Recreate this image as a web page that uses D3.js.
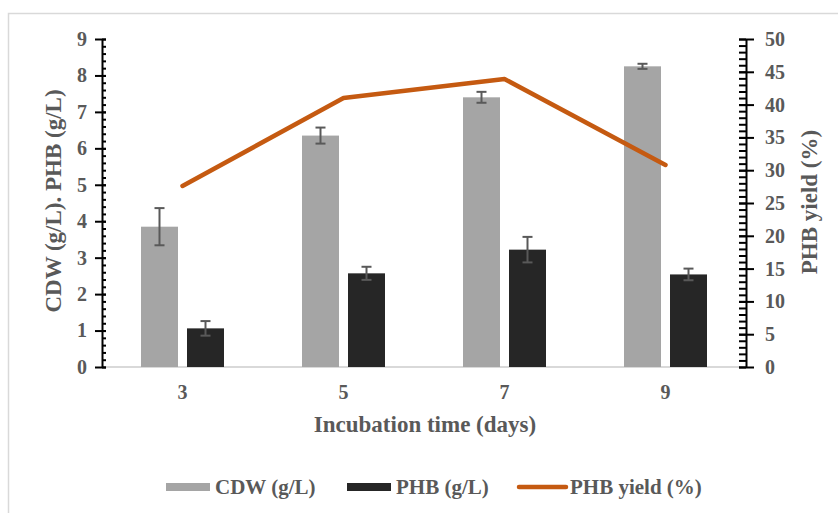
<!DOCTYPE html>
<html>
<head>
<meta charset="utf-8">
<script src="https://cdn.jsdelivr.net/npm/d3@7"></script>
<style>
  body { margin: 0; background: #fff; }
  svg text { font-family: "Liberation Serif", "Times New Roman", serif; font-weight: bold; fill: #595959; }
</style>
</head>
<body>
<svg id="chart" width="838" height="513"></svg>
<script>
// data
var days = ["3", "5", "7", "9"];
var cdw = [3.85, 6.35, 7.40, 8.25];
var cdwErr = [0.51, 0.22, 0.15, 0.07];
var phb = [1.06, 2.57, 3.22, 2.54];
var phbErr = [0.20, 0.18, 0.35, 0.16];
var phbYield = [27.6, 41.0, 43.9, 30.8];
var leftTicks = [0, 1, 2, 3, 4, 5, 6, 7, 8, 9];
var rightTicks = [0, 5, 10, 15, 20, 25, 30, 35, 40, 45, 50];
var series = ["CDW (g/L)", "PHB (g/L)"];

var svg = d3.select("#chart");
var pLeft = 102, pRight = 746, pTop = 39, pBottom = 367;

// outer frame
svg.append("rect")
    .attr("x", 8.5).attr("y", 13.5)
    .attr("width", 900).attr("height", 600)
    .attr("fill", "none").attr("stroke", "#d9d9d9").attr("stroke-width", 1.5);

var x0 = d3.scaleBand().domain(days).range([pLeft, pRight]).padding(0);
var x1 = d3.scaleBand().domain(series)
    .range([x0.bandwidth() / 2 - 41.5, x0.bandwidth() / 2 + 41.5])
    .paddingInner(0.1957).paddingOuter(0);
var y = d3.scaleLinear().domain([0, 9]).range([pBottom, pTop]);
var y2 = d3.scaleLinear().domain([0, 50]).range([pBottom, pTop]);
var color = d3.scaleOrdinal().domain(series).range(["#a5a5a5", "#262626"]);

// x baseline
svg.append("line")
    .attr("x1", pLeft).attr("x2", pRight)
    .attr("y1", pBottom).attr("y2", pBottom)
    .attr("stroke", "#d9d9d9").attr("stroke-width", 2);

// bars
var rows = days.map(function (d, i) {
    return [
        {day: d, key: series[0], v: cdw[i], e: cdwErr[i]},
        {day: d, key: series[1], v: phb[i], e: phbErr[i]}
    ];
});

var groups = svg.append("g").selectAll("g")
    .data(rows).enter().append("g")
    .attr("transform", function (d) { return "translate(" + x0(d[0].day) + ",0)"; });

groups.selectAll("rect")
    .data(function (d) { return d; })
    .enter().append("rect")
    .attr("x", function (d) { return x1(d.key); })
    .attr("y", function (d) { return y(d.v); })
    .attr("width", x1.bandwidth())
    .attr("height", function (d) { return y(0) - y(d.v); })
    .attr("fill", function (d) { return color(d.key); });

// error bars
var eb = groups.selectAll("g.err")
    .data(function (d) { return d; })
    .enter().append("g").attr("class", "err")
    .attr("stroke", "#595959").attr("stroke-width", 2);
eb.append("line")
    .attr("x1", function (d) { return x1(d.key) + x1.bandwidth() / 2; })
    .attr("x2", function (d) { return x1(d.key) + x1.bandwidth() / 2; })
    .attr("y1", function (d) { return y(d.v + d.e); })
    .attr("y2", function (d) { return y(d.v - d.e); });
eb.selectAll("line.cap")
    .data(function (d) { return [d.v + d.e, d.v - d.e].map(function (v) { return {key: d.key, v: v}; }); })
    .enter().append("line").attr("class", "cap")
    .attr("x1", function (d) { return x1(d.key) + x1.bandwidth() / 2 - 5; })
    .attr("x2", function (d) { return x1(d.key) + x1.bandwidth() / 2 + 5; })
    .attr("y1", function (d) { return y(d.v); })
    .attr("y2", function (d) { return y(d.v); });

// yield line
var line = d3.line()
    .x(function (d, i) { return x0(days[i]) + x0.bandwidth() / 2; })
    .y(function (d) { return y2(d); });
svg.append("path")
    .datum(phbYield)
    .attr("d", line)
    .attr("fill", "none")
    .attr("stroke", "#c55a11")
    .attr("stroke-width", 4.5)
    .attr("stroke-linecap", "round")
    .attr("stroke-linejoin", "round");

// left axis
var minorLeft = d3.range(0, 9.001, 0.2);
svg.append("g")
    .attr("transform", "translate(" + pLeft + ",0)")
    .call(d3.axisRight(y).tickValues(minorLeft).tickSize(4).tickSizeOuter(0).tickFormat(""))
    .call(function (g) { g.select(".domain").remove(); });
var ly = svg.append("g")
    .attr("transform", "translate(" + pLeft + ",0)")
    .call(d3.axisLeft(y).tickValues(leftTicks).tickSize(7).tickSizeOuter(0).tickPadding(8));
ly.selectAll(".tick line").attr("x2", -7).attr("x1", 4);

// right axis
var minorRight = d3.range(0, 50.001, 1);
svg.append("g")
    .attr("transform", "translate(" + pRight + ",0)")
    .call(d3.axisLeft(y2).tickValues(minorRight).tickSize(7).tickSizeOuter(0).tickFormat(""))
    .call(function (g) { g.select(".domain").remove(); });
var ry = svg.append("g")
    .attr("transform", "translate(" + pRight + ",0)")
    .call(d3.axisRight(y2).tickValues(rightTicks).tickSize(8).tickSizeOuter(0).tickPadding(11));
ry.selectAll(".tick line").attr("x1", -7);

[ly, ry].forEach(function (g) {
    g.select(".domain").attr("stroke", "#000").attr("stroke-width", 2);
    g.selectAll(".tick text").style("font-size", "20px").attr("fill", "#595959");
});
svg.selectAll(".tick line").attr("stroke", "#000").attr("stroke-width", 2);

// x axis labels
var xa = svg.append("g")
    .attr("transform", "translate(0," + pBottom + ")")
    .call(d3.axisBottom(x0).tickSize(0).tickPadding(18));
xa.select(".domain").remove();
xa.selectAll(".tick text").style("font-size", "20px").attr("fill", "#595959");

// titles
svg.append("text")
    .attr("x", (pLeft + pRight) / 2 + 1).attr("y", 432)
    .attr("text-anchor", "middle")
    .style("font-size", "23px")
    .text("Incubation time (days)");

svg.append("text")
    .attr("transform", "translate(61,201) rotate(-90)")
    .attr("text-anchor", "middle")
    .style("font-size", "23px")
    .text("CDW (g/L). PHB (g/L)");

svg.append("text")
    .attr("transform", "translate(817,202) rotate(-90)")
    .attr("text-anchor", "middle")
    .style("font-size", "23px")
    .text("PHB yield (%)");

// legend
var legend = [
    {label: "CDW (g/L)", type: "bar", c: "#a5a5a5", x: 166},
    {label: "PHB (g/L)", type: "bar", c: "#262626", x: 347},
    {label: "PHB yield (%)", type: "line", c: "#c55a11", x: 518}
];
var lg = svg.append("g").selectAll("g")
    .data(legend).enter().append("g")
    .attr("transform", function (d) { return "translate(" + d.x + ",487)"; });
lg.filter(function (d) { return d.type == "bar"; })
    .append("rect")
    .attr("x", 0).attr("y", -4).attr("width", 44).attr("height", 8)
    .attr("fill", function (d) { return d.c; });
lg.filter(function (d) { return d.type == "line"; })
    .append("line")
    .attr("x1", 1).attr("x2", 48).attr("y1", 0).attr("y2", 0)
    .attr("stroke", function (d) { return d.c; })
    .attr("stroke-width", 4.5).attr("stroke-linecap", "round");
lg.append("text")
    .attr("x", function (d) { return d.type == "bar" ? 49 : 52; })
    .attr("y", 7)
    .style("font-size", "21px")
    .text(function (d) { return d.label; });
</script>
</body>
</html>
